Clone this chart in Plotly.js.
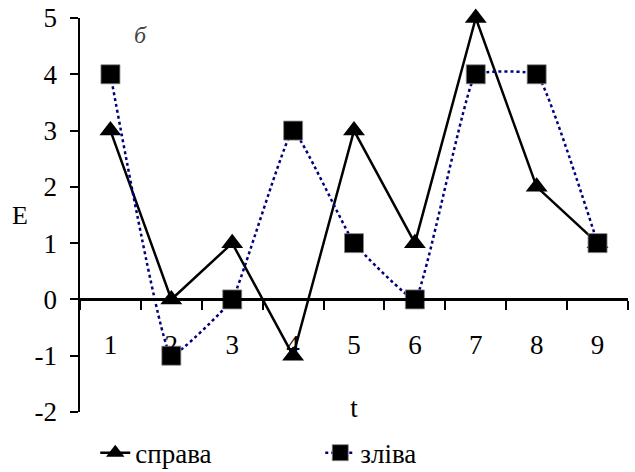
<!DOCTYPE html>
<html>
<head>
<meta charset="utf-8">
<script src="https://cdn.plot.ly/plotly-3.0.1.min.js"></script>
<style>html,body{margin:0;padding:0;background:#fff;}#chart{width:635px;height:472px;}</style>
</head>
<body>
<div id="chart"></div>
<script>
const categories = ["1","2","3","4","5","6","7","8","9"];
const rightValues = [3, 0, 1, -1, 3, 1, 5, 2, 1];
const leftValues = [4, -1, 0, 3, 1, 0, 4, 4, 1];
const seriesNames = ["справа", "зліва"];
const yTickVals = [-2, -1, 0, 1, 2, 3, 4, 5];
const yTickText = ["-2", "-1", "0", "1", "2", "3", "4", "5"];

const serif = "Liberation Serif";

const traces = [
  {
    x: categories, y: rightValues, name: seriesNames[0],
    type: "scatter", mode: "lines+markers",
    line: {color: "#000000", width: 2.5},
    marker: {symbol: "triangle-up", size: 19, color: "#000000"},
    cliponaxis: false
  },
  {
    x: categories, y: leftValues, name: seriesNames[1],
    type: "scatter", mode: "lines+markers",
    line: {color: "#000080", width: 2.5, dash: "dot", shape: "spline", smoothing: 0.3},
    marker: {symbol: "square", size: 19, color: "#000000", line: {color: "#888888", width: 0.8}},
    cliponaxis: false
  }
];

const layout = {
  width: 635, height: 472,
  margin: {l: 80, r: 7, t: 18, b: 60},
  paper_bgcolor: "#ffffff", plot_bgcolor: "#ffffff",
  font: {family: serif, size: 27, color: "#000000"},
  showlegend: true,
  legend: {orientation: "h", xref: "container", yref: "container",
           x: 0.15, xanchor: "left", y: 0.04, yanchor: "middle",
           entrywidth: 180, entrywidthmode: "pixels",
           font: {family: serif, size: 27, color: "#000"}, tracegroupgap: 0},
  xaxis: {
    type: "category", range: [-0.5, 8.5],
    anchor: "free", position: 2/7,
    showgrid: false, zeroline: false,
    showline: true, linecolor: "#000", linewidth: 2.5,
    ticks: "outside", tickson: "boundaries", ticklen: 9, tickwidth: 2, tickcolor: "#000",
    ticklabelstandoff: 21,
    tickfont: {family: serif, size: 27},
    title: {text: "t", font: {family: serif, size: 27}, standoff: 38}
  },
  yaxis: {
    range: [-2, 5], tickmode: "array", tickvals: yTickVals, ticktext: yTickText,
    showgrid: false, zeroline: false,
    showline: true, linecolor: "#000", linewidth: 2.5,
    ticks: "outside", ticklen: 8, tickwidth: 2, tickcolor: "#000",
    ticklabelstandoff: 7,
    tickfont: {family: serif, size: 27}
  },
  annotations: [
    {text: "б", xref: "paper", yref: "paper", x: 0.11, y: 0.957, showarrow: false,
     font: {family: serif, size: 24, color: "#444", style: "italic"}, xanchor: "center", yanchor: "middle"},
    {text: "E", xref: "paper", yref: "paper", x: -0.11, y: 0.5, showarrow: false,
     font: {family: serif, size: 26, color: "#000"}, xanchor: "center", yanchor: "middle"}
  ]
};

Plotly.newPlot("chart", traces, layout, {displayModeBar: false, staticPlot: true});
</script>
</body>
</html>
